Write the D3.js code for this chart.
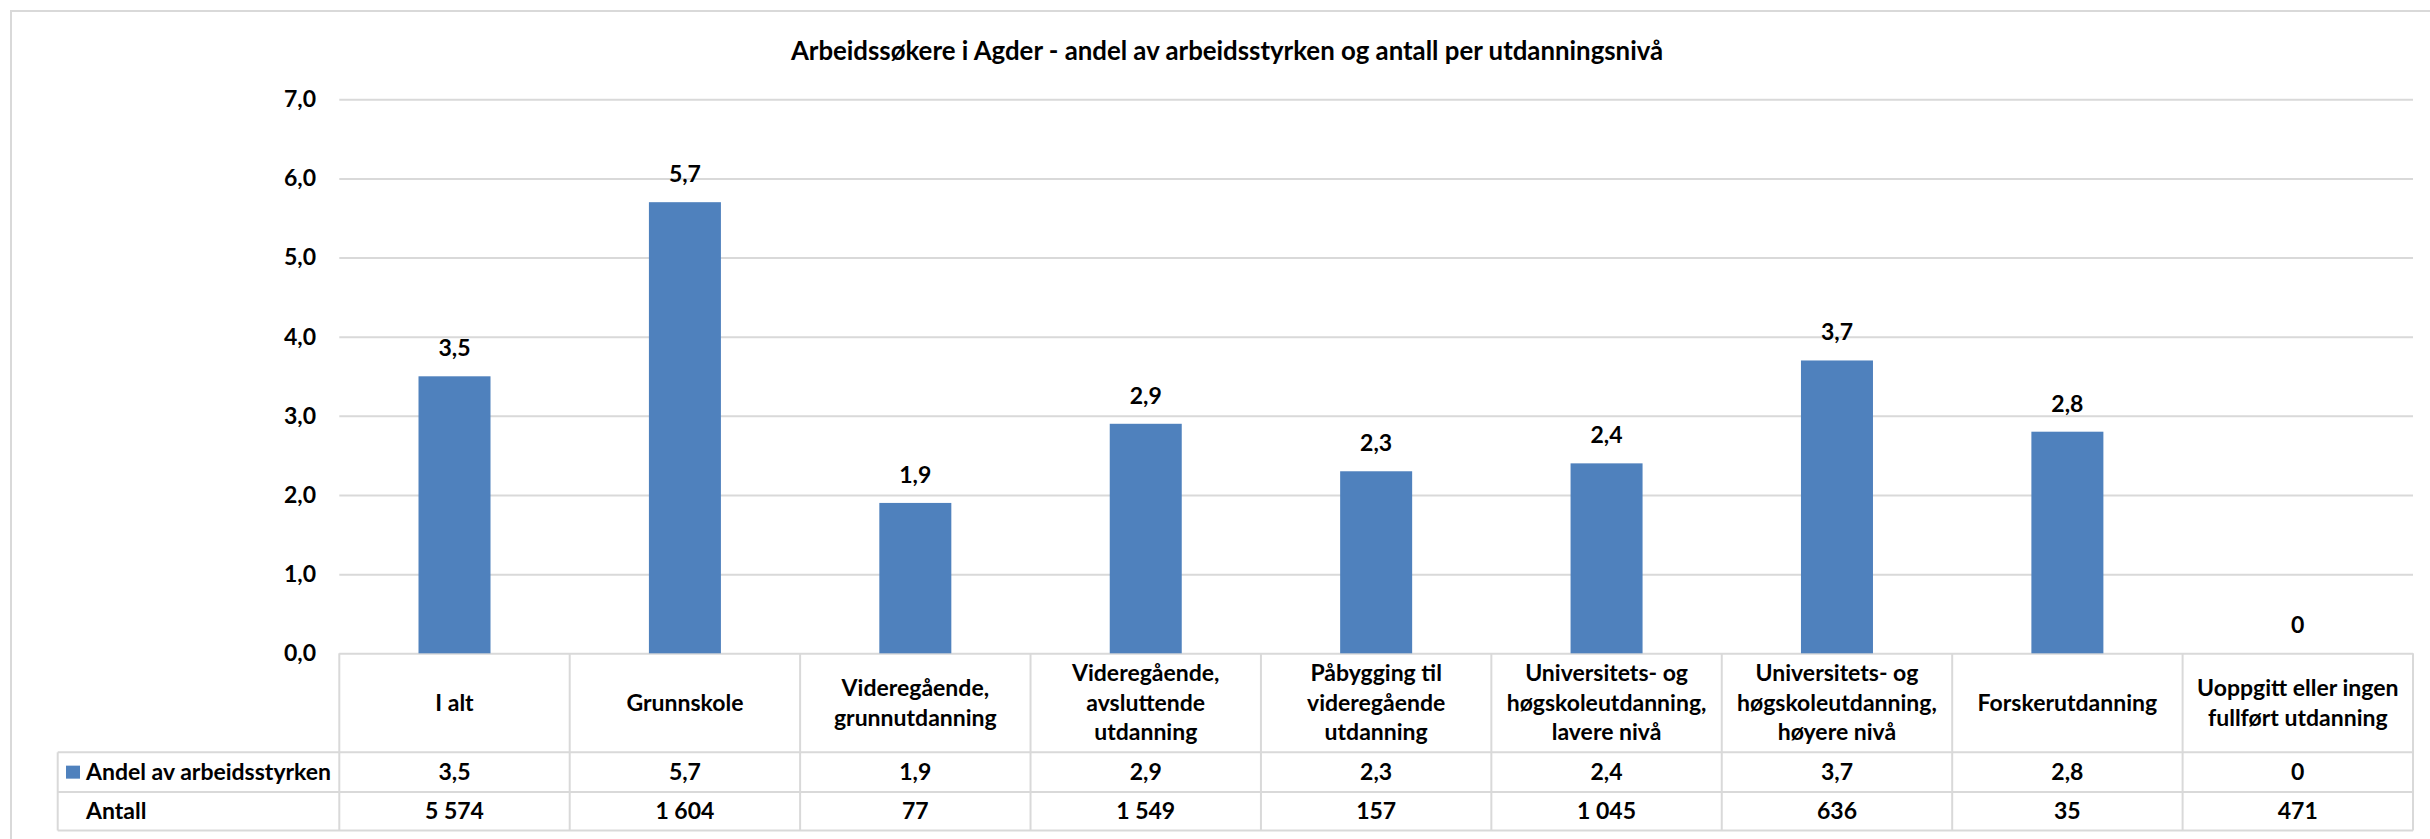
<!DOCTYPE html>
<html>
<head>
<meta charset="utf-8">
<script src="https://cdnjs.cloudflare.com/ajax/libs/d3/7.8.5/d3.min.js"></script>
<style>
  body { margin: 0; background: #fff; }
  text { font-family: Lato, 'Open Sans', sans-serif; font-weight: bold; fill: #000; }
</style>
</head>
<body>
<script>
const categories = [
  'I alt',
  'Grunnskole',
  'Videregående,\ngrunnutdanning',
  'Videregående,\navsluttende\nutdanning',
  'Påbygging til\nvideregående\nutdanning',
  'Universitets- og\nhøgskoleutdanning,\nlavere nivå',
  'Universitets- og\nhøgskoleutdanning,\nhøyere nivå',
  'Forskerutdanning',
  'Uoppgitt eller ingen\nfullført utdanning'
];
const andel = [3.5, 5.7, 1.9, 2.9, 2.3, 2.4, 3.7, 2.8, 0];
const antall = [5574, 1604, 77, 1549, 157, 1045, 636, 35, 471];
const yTicks = [0, 1, 2, 3, 4, 5, 6, 7];
const seriesName = 'Andel av arbeidsstyrken';
const countName = 'Antall';
const title = 'Arbeidssøkere i Agder - andel av arbeidsstyrken og antall per utdanningsnivå';

// Width and height
const w = 2430;
const h = 839;

const plotLeft = 339.3;
const plotRight = 2413;
const plotTop = 99.3;
const plotBottom = 653.3;
const tableLeft = 57.7;
const rowLines = [752.3, 792, 830.5];

const gridColor = '#d9d9d9';
const barColor = '#4f81bd';
const fontSize = '23px';

const locale = d3.formatLocale({ decimal: ',', thousands: ' ', grouping: [3] });
const fmtOne = locale.format('.1f');
const fmtInt = locale.format(',d');
const fmtValue = v => (v === 0 ? '0' : fmtOne(v));

const xScale = d3
  .scaleBand()
  .domain(d3.range(categories.length))
  .range([plotLeft, plotRight])
  .paddingInner(0.6875)
  .paddingOuter(0.6875 / 2);

const yScale = d3
  .scaleLinear()
  .domain([0, 7])
  .range([plotBottom, plotTop]);

const svg = d3
  .select('body')
  .append('svg')
  .attr('width', w)
  .attr('height', h);

// Chart border (runs off the right and bottom edges)
svg
  .append('rect')
  .attr('x', 11)
  .attr('y', 11)
  .attr('width', w + 20)
  .attr('height', h + 20)
  .attr('fill', 'none')
  .attr('stroke', gridColor)
  .attr('stroke-width', 2);

// Title
svg
  .append('text')
  .attr('x', 1227)
  .attr('y', 51)
  .attr('dy', '0.35em')
  .attr('text-anchor', 'middle')
  .style('font-size', '25.8px')
  .text(title);

// Y axis with gridlines
const yAxis = svg
  .append('g')
  .attr('transform', `translate(${plotLeft},0)`)
  .call(
    d3
      .axisLeft(yScale)
      .tickValues(yTicks)
      .tickFormat(fmtOne)
      .tickSizeInner(-(plotRight - plotLeft))
      .tickSizeOuter(0)
      .tickPadding(plotLeft - 316)
  );
yAxis.select('.domain').remove();
yAxis
  .selectAll('.tick line')
  .attr('stroke', gridColor)
  .attr('stroke-width', 2);
yAxis
  .selectAll('.tick text')
  .style('font-size', fontSize)
  .style('font-family', null);

// Bars
svg
  .selectAll('rect.bar')
  .data(andel)
  .enter()
  .append('rect')
  .attr('class', 'bar')
  .attr('x', (d, i) => xScale(i))
  .attr('y', d => yScale(d))
  .attr('width', xScale.bandwidth())
  .attr('height', d => plotBottom - yScale(d))
  .attr('fill', barColor);

// Bar labels
svg
  .selectAll('text.bar-label')
  .data(andel)
  .enter()
  .append('text')
  .attr('class', 'bar-label')
  .attr('x', (d, i) => xScale(i) + xScale.bandwidth() / 2)
  .attr('y', d => yScale(d) - 20)
  .attr('text-anchor', 'middle')
  .style('font-size', fontSize)
  .text(fmtValue);

// Data table
const step = xScale.step();
const colX = i => plotLeft + i * step;
const table = svg.append('g');

table
  .selectAll('line.h')
  .data(rowLines)
  .enter()
  .append('line')
  .attr('x1', tableLeft)
  .attr('x2', plotRight)
  .attr('y1', d => d)
  .attr('y2', d => d)
  .attr('stroke', gridColor)
  .attr('stroke-width', 2);

table
  .selectAll('line.v')
  .data(d3.range(categories.length + 1))
  .enter()
  .append('line')
  .attr('x1', d => colX(d))
  .attr('x2', d => colX(d))
  .attr('y1', plotBottom)
  .attr('y2', rowLines[2])
  .attr('stroke', gridColor)
  .attr('stroke-width', 2);

table
  .append('line')
  .attr('x1', tableLeft)
  .attr('x2', tableLeft)
  .attr('y1', rowLines[0])
  .attr('y2', rowLines[2])
  .attr('stroke', gridColor)
  .attr('stroke-width', 2);

// Category headers
const headCenter = (plotBottom + rowLines[0]) / 2;
const lineH = 29.5;
table
  .selectAll('text.cat')
  .data(categories)
  .enter()
  .append('text')
  .attr('class', 'cat')
  .attr('text-anchor', 'middle')
  .style('font-size', fontSize)
  .each(function(d, i) {
    const lines = d.split('\n');
    d3.select(this)
      .selectAll('tspan')
      .data(lines)
      .enter()
      .append('tspan')
      .attr('x', colX(i) + step / 2)
      .attr('y', (l, j) => headCenter + (j - (lines.length - 1) / 2) * lineH)
      .attr('dy', '0.35em')
      .text(l => l);
  });

// Row values
const row1 = (rowLines[0] + rowLines[1]) / 2;
const row2 = (rowLines[1] + rowLines[2]) / 2;

table
  .selectAll('text.andel')
  .data(andel)
  .enter()
  .append('text')
  .attr('x', (d, i) => colX(i) + step / 2)
  .attr('y', row1)
  .attr('dy', '0.35em')
  .attr('text-anchor', 'middle')
  .style('font-size', fontSize)
  .text(fmtValue);

table
  .selectAll('text.antall')
  .data(antall)
  .enter()
  .append('text')
  .attr('x', (d, i) => colX(i) + step / 2)
  .attr('y', row2)
  .attr('dy', '0.35em')
  .attr('text-anchor', 'middle')
  .style('font-size', fontSize)
  .text(fmtInt);

// Row headers with legend key
table
  .append('rect')
  .attr('x', 66)
  .attr('y', row1 - 6.5)
  .attr('width', 14)
  .attr('height', 13)
  .attr('fill', barColor);

table
  .append('text')
  .attr('x', 86)
  .attr('y', row1)
  .attr('dy', '0.35em')
  .style('font-size', fontSize)
  .text(seriesName);

table
  .append('text')
  .attr('x', 86)
  .attr('y', row2)
  .attr('dy', '0.35em')
  .style('font-size', fontSize)
  .text(countName);
</script>
</body>
</html>
